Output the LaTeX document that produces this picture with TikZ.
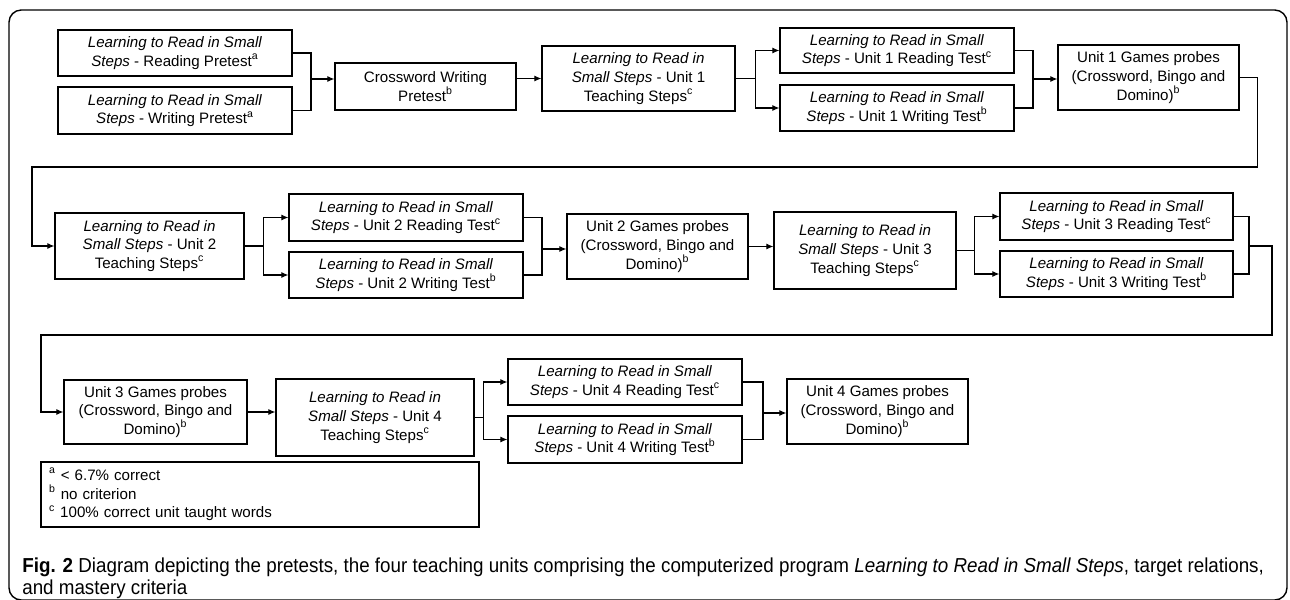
\documentclass[tikz,border=0pt]{standalone}
\usepackage{fontspec}
\setmainfont{Liberation Sans}
\newfontfamily\capfont[FakeStretch=0.93]{Liberation Sans}
\usetikzlibrary{arrows.meta}

\begin{document}
\begin{tikzpicture}[x=0.02cm, y=-0.02cm, >={Latex[length=4pt,width=3.4pt]},
  every node/.style={font=\fontsize{8.6}{10.6}\selectfont},
  box/.style={draw, line width=0.7pt, align=center, inner sep=0pt},
  link/.style={line width=0.6pt}]
\useasboundingbox (0,0) rectangle (1290,599);
\draw[line width=0.8pt, rounded corners=7pt] (9,10) rectangle (1287,600); % frame

% row 1
\node[box, minimum width=4.68cm, minimum height=0.92cm] (P1) at (175,53) {\textit{Learning to Read in Small}\\\textit{Steps} - Reading Pretest\textsuperscript{a}};
\node[box, minimum width=4.68cm, minimum height=0.94cm] (P2) at (175,110.5) {\textit{Learning to Read in Small}\\\textit{Steps} - Writing Pretest\textsuperscript{a}};
\node[box, minimum width=3.62cm, minimum height=0.94cm] (CW) at (425.5,86.5) {Crossword Writing\\Pretest\textsuperscript{b}};
\node[box, minimum width=3.86cm, minimum height=1.3cm] (T1) at (638.5,78.5) {\textit{Learning to Read in}\\\textit{Small Steps} - Unit 1\\Teaching Steps\textsuperscript{c}};
\node[box, minimum width=4.68cm, minimum height=0.9cm] (R1) at (897,50.5) {\textit{Learning to Read in Small}\\\textit{Steps} - Unit 1 Reading Test\textsuperscript{c}};
\node[box, minimum width=4.68cm, minimum height=0.92cm] (W1) at (897,108) {\textit{Learning to Read in Small}\\\textit{Steps} - Unit 1 Writing Test\textsuperscript{b}};
\node[box, minimum width=3.62cm, minimum height=1.3cm] (G1) at (1148.5,77.5) {Unit 1 Games probes\\(Crossword, Bingo and\\Domino)\textsuperscript{b}};

% row 2
\node[box, minimum width=3.78cm, minimum height=1.32cm] (T2) at (149.5,246) {\textit{Learning to Read in}\\\textit{Small Steps} - Unit 2\\Teaching Steps\textsuperscript{c}};
\node[box, minimum width=4.68cm, minimum height=0.94cm] (R2) at (406,217.5) {\textit{Learning to Read in Small}\\\textit{Steps} - Unit 2 Reading Test\textsuperscript{c}};
\node[box, minimum width=4.68cm, minimum height=0.92cm] (W2) at (406,275) {\textit{Learning to Read in Small}\\\textit{Steps} - Unit 2 Writing Test\textsuperscript{b}};
\node[box, minimum width=3.62cm, minimum height=1.3cm] (G2) at (657.5,246.5) {Unit 2 Games probes\\(Crossword, Bingo and\\Domino)\textsuperscript{b}};
\node[box, minimum width=3.64cm, minimum height=1.54cm] (T3) at (865,250.5) {\textit{Learning to Read in}\\\textit{Small Steps} - Unit 3\\Teaching Steps\textsuperscript{c}};
\node[box, minimum width=4.66cm, minimum height=0.94cm] (R3) at (1116.5,216.5) {\textit{Learning to Read in Small}\\\textit{Steps} - Unit 3 Reading Test\textsuperscript{c}};
\node[box, minimum width=4.66cm, minimum height=0.92cm] (W3) at (1116.5,274) {\textit{Learning to Read in Small}\\\textit{Steps} - Unit 3 Writing Test\textsuperscript{b}};

% row 3
\node[box, minimum width=3.66cm, minimum height=1.28cm] (G3) at (155.5,412) {Unit 3 Games probes\\(Crossword, Bingo and\\Domino)\textsuperscript{b}};
\node[box, minimum width=3.96cm, minimum height=1.54cm] (T4) at (375,417.5) {\textit{Learning to Read in}\\\textit{Small Steps} - Unit 4\\Teaching Steps\textsuperscript{c}};
\node[box, minimum width=4.68cm, minimum height=0.92cm] (R4) at (625,382) {\textit{Learning to Read in Small}\\\textit{Steps} - Unit 4 Reading Test\textsuperscript{c}};
\node[box, minimum width=4.68cm, minimum height=0.94cm] (W4) at (625,439.5) {\textit{Learning to Read in Small}\\\textit{Steps} - Unit 4 Writing Test\textsuperscript{b}};
\node[box, minimum width=3.62cm, minimum height=1.3cm] (G4) at (877.5,411.5) {Unit 4 Games probes\\(Crossword, Bingo and\\Domino)\textsuperscript{b}};

% key
\node[draw, line width=0.7pt, align=left, text width=8.44cm, inner xsep=0.16cm, minimum height=1.3cm] (key) at (260,494.5) {\textsuperscript{a} < 6.7\% correct\\\textsuperscript{b} no criterion\\\textsuperscript{c} 100\% correct unit taught words};

% connectors
\coordinate (j0) at (311,79);
\draw[link] (P1.east) -| (j0) |- (P2.east);
\draw[link, ->] (j0) -- (j0 -| CW.west);
\draw[link, ->] (T1.west -| CW.east) -- (T1.west);
\draw[link] (T1.east) -- ++(20,0) coordinate (s1);
\draw[link, ->] (s1) |- (R1.west);
\draw[link, ->] (s1) |- (W1.west);
\coordinate (j1) at (1033,79);
\draw[link] (R1.east) -| (j1) |- (W1.east);
\draw[link, ->] (j1) -- (j1 -| G1.west);
\coordinate (c1) at (32,167);
\draw[link, ->] (G1.east) -- ++(18,0) |- (c1) |- (T2.west);

\draw[link] (T2.east) -- ++(19,0) coordinate (s2);
\draw[link, ->] (s2) |- (R2.west);
\draw[link, ->] (s2) |- (W2.west);
\coordinate (j2) at (542,249);
\draw[link] (R2.east) -| (j2) |- (W2.east);
\draw[link, ->] (j2) -- (j2 -| G2.west);
\draw[link, ->] (G2.east) -- (G2.east -| T3.west);
\draw[link] (T3.east) -- ++(18,0) coordinate (s3);
\draw[link, ->] (s3) |- (R3.west);
\draw[link, ->] (s3) |- (W3.west);
\coordinate (b3) at (1249,246);
\draw[link] (R3.east) -| (b3) |- (W3.east);
\coordinate (c2) at (41,335);
\draw[link, ->] (b3) -- ++(23,0) |- (c2) |- (G3.west);

\draw[link, ->] (G3.east) -- (G3.east -| T4.west);
\draw[link] (T4.east) -- ++(9,0) coordinate (s4);
\draw[link, ->] (s4) |- (R4.west);
\draw[link, ->] (s4) |- (W4.west);
\coordinate (j4) at (763,413);
\draw[link] (R4.east) -| (j4) |- (W4.east);
\draw[link, ->] (j4) -- (j4 -| G4.west);

% caption
\node[anchor=north west, align=left, inner sep=0pt, font=\capfont\fontsize{11.5}{12.5}\selectfont] (cap) at (22,557.5) {\textbf{Fig. 2} Diagram depicting the pretests, the four teaching units comprising the computerized program \textit{Learning to Read in Small Steps}, target relations,\\and mastery criteria};
\end{tikzpicture}
\end{document}
